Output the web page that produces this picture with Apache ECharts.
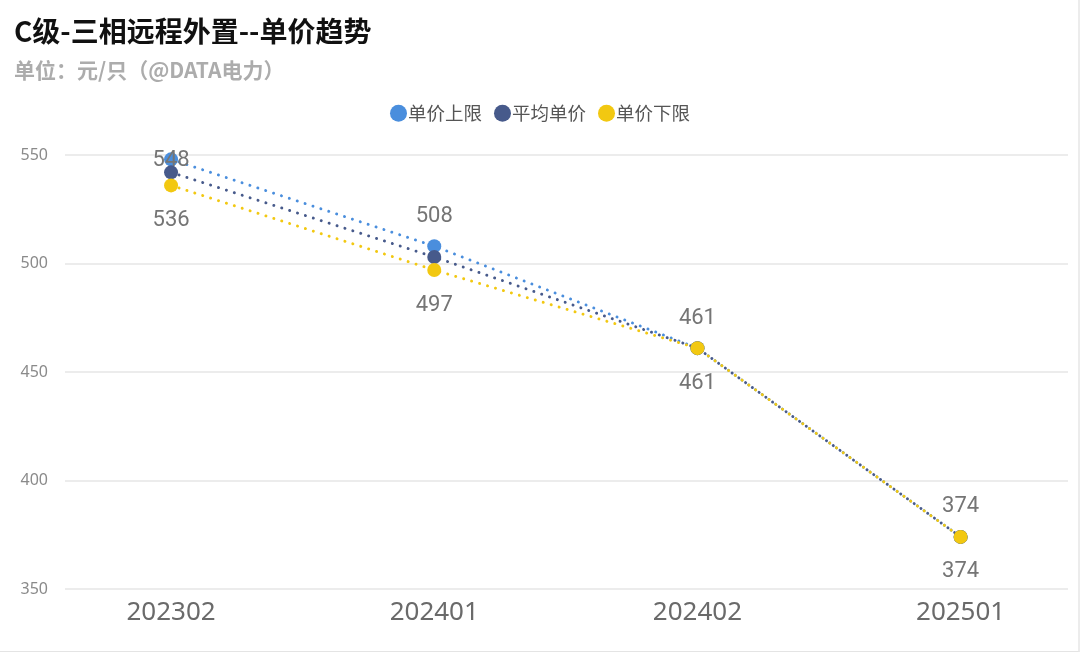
<!DOCTYPE html>
<html><head><meta charset="utf-8">
<script src="https://cdn.jsdelivr.net/npm/echarts@6/dist/echarts.min.js"></script>
<style>
html,body{margin:0;padding:0;background:#fff;}
#wrap{position:relative;width:1080px;height:652px;}
#c{width:1080px;height:652px;}
#frame{position:absolute;left:0;top:0;width:1078px;height:651px;border-right:2px solid #ececec;border-bottom:1px solid #e4e4e4;pointer-events:none;}
</style></head>
<body><div id="wrap"><div id="c"></div><div id="frame"></div></div>
<script>
const categories = ['202302','202401','202402','202501'];
const upperPrice = [548, 508, 461, 374];
const avgPrice = [542, 503, 461, 374];
const lowerPrice = [536, 497, 461, 374];
const yTicks = [350, 400, 450, 500, 550];

const chart = echarts.init(document.getElementById('c'));
const pts = arr => arr.map((v, i) => [i, v]);
const labelFont = {fontFamily: 'Roboto, "Noto Sans", sans-serif', fontSize: 22, color: '#757575'};
const dash = {type: [0.1, 8.2], width: 2.9, cap: 'round'};

chart.setOption({
  animation: false,
  title: [
    {text: 'C级-三相远程外置--单价趋势', left: 9, top: 12,
     textStyle: {fontSize: 28, fontWeight: 'bold', color: '#111', fontFamily: '"Noto Sans CJK SC", sans-serif'}},
    {text: '单位：元/只（@DATA电力）', left: 9, top: 55,
     textStyle: {fontSize: 21, fontWeight: 'bold', color: '#acacac', fontFamily: '"Noto Sans CJK SC", sans-serif'}}
  ],
  legend: {
    top: 99, left: 'center', itemGap: 12, itemWidth: 17, itemHeight: 17,
    icon: 'circle',
    textStyle: {fontSize: 18.5, color: '#555', fontFamily: '"Noto Sans CJK SC", sans-serif', padding: [0,0,0,-4]},
    data: ['单价上限', '平均单价', '单价下限']
  },
  grid: {left: 65, right: 12, top: 155, bottom: 63},
  xAxis: {
    type: 'value', min: -0.403, max: 3.408,
    axisLine: {show: false}, axisTick: {show: false}, splitLine: {show: false},
    axisLabel: {
      customValues: [0, 1, 2, 3],
      formatter: v => categories[Math.round(v)],
      fontSize: 26, color: '#6a6a6a', margin: 11,
      fontFamily: '"Noto Sans", sans-serif'
    }
  },
  yAxis: {
    type: 'value', min: 350, max: 550, interval: 50,
    axisLine: {show: false}, axisTick: {show: false},
    splitLine: {lineStyle: {color: '#e6e6e6', width: 1.5}},
    axisLabel: {fontSize: 16, color: '#8a8a8a', margin: 17, fontFamily: '"Noto Sans", sans-serif'}
  },
  series: [
    {
      name: '单价上限', type: 'line', data: pts(upperPrice).map((p, i) => i === 0 ? {value: p, label: {position: 'inside', offset: [0, 1]}} : p),
      symbol: 'circle', symbolSize: 14, z: 2,
      itemStyle: {color: '#4A8EDD'},
      lineStyle: Object.assign({color: '#4A8EDD'}, dash),
      label: Object.assign({show: true, position: 'top', distance: 12, formatter: p => p.value[1]}, labelFont)
    },
    {
      name: '平均单价', type: 'line', data: pts(avgPrice),
      symbol: 'circle', symbolSize: 14, z: 3,
      itemStyle: {color: '#475A8B'},
      lineStyle: Object.assign({color: '#475A8B'}, dash),
      label: {show: false}
    },
    {
      name: '单价下限', type: 'line', data: pts(lowerPrice),
      symbol: 'circle', symbolSize: 14, z: 4,
      itemStyle: {color: '#F2C811'},
      lineStyle: Object.assign({color: '#F2C811'}, dash),
      label: Object.assign({show: true, position: 'bottom', distance: 17, formatter: p => p.value[1]}, labelFont)
    }
  ]
});
</script></body></html>
